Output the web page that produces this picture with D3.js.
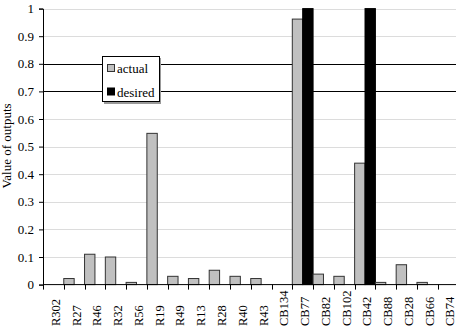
<!DOCTYPE html>
<html><head><meta charset="utf-8">
<script src="https://cdn.jsdelivr.net/npm/d3@7"></script>
<style>body{margin:0;background:#fff}svg{display:block}</style>
</head><body><svg id="c" width="456" height="330" font-family="Liberation Serif"></svg>
<script>
const categories = ["R302","R27","R46","R32","R56","R19","R49","R13","R28","R40","R43","CB134","CB77","CB82","CB102","CB42","CB88","CB28","CB66","CB74"];
const actual  = [0,0.022,0.11,0.10,0.008,0.548,0.03,0.022,0.052,0.03,0.022,0,0.962,0.038,0.03,0.44,0.008,0.072,0.008,0];
const desired = [0,0,0,0,0,0,0,0,0,0,0,0,1,0,0,1,0,0,0,0];
const yTicks = [0,0.1,0.2,0.3,0.4,0.5,0.6,0.7,0.8,0.9,1];
const yTickLabels = ["0","0.1","0.2","0.3","0.4","0.5","0.6","0.7","0.8","0.9","1"];
const thresholds = [0.7,0.8];
const series = ["actual","desired"];
const colors = {actual:"#c0c0c0", desired:"#000000"};
const FONT = "Liberation Serif";

const svg = d3.select("#c");
const pLeft = 43, pRight = 458.5, pTop = 8.6, pBottom = 284.6;
const x = d3.scaleBand().domain(categories).range([pLeft,pRight]).padding(0);
const xs = d3.scaleBand().domain(series).range([0,x.bandwidth()]).padding(0);
const y = d3.scaleLinear().domain([0,1]).range([pBottom,pTop]);

// gridlines
svg.append("g").selectAll("line").data(yTicks.filter(t=>t>0)).join("line")
  .attr("x1",pLeft).attr("x2",456).attr("y1",d=>Math.round(y(d))+0.5).attr("y2",d=>Math.round(y(d))+0.5)
  .attr("stroke","#dcdcdc").attr("stroke-width",1);
// threshold lines
svg.append("g").selectAll("line").data(thresholds).join("line")
  .attr("x1",pLeft).attr("x2",456).attr("y1",d=>Math.round(y(d))+0.5).attr("y2",d=>Math.round(y(d))+0.5)
  .attr("stroke","#000").attr("stroke-width",1.2);

// bars
const data = categories.map((c,i)=>({c, actual:actual[i], desired:desired[i]}));
const g = svg.append("g");
data.forEach(d=>{
  series.forEach(s=>{
    const v = d[s];
    if (v<=0) return;
    g.append("rect")
      .attr("x", x(d.c)+xs(s)).attr("width", xs.bandwidth())
      .attr("y", y(v)).attr("height", y(0)-y(v))
      .attr("fill", colors[s])
      .attr("stroke", s==="actual" ? "#333" : "#000").attr("stroke-width", 1);
  });
});

// y axis
const yAxis = d3.axisLeft(y).tickValues(yTicks).tickFormat((d,i)=>yTickLabels[i]).tickSize(4).tickPadding(5);
const ya = svg.append("g").attr("transform",`translate(${pLeft},0)`).call(yAxis);
ya.attr("font-family",FONT).attr("font-size",13);
ya.select(".domain").attr("stroke","#000");
ya.selectAll("text").style("font-family",FONT).style("font-size","13px").attr("fill","#000");

// x axis line & ticks at boundaries
svg.append("line").attr("x1",pLeft).attr("x2",456).attr("y1",pBottom).attr("y2",pBottom).attr("stroke","#000");
svg.append("g").selectAll("line").data(categories).join("line")
  .attr("x1",d=>Math.round(x(d))+0.5).attr("x2",d=>Math.round(x(d))+0.5)
  .attr("y1",pBottom).attr("y2",pBottom+5).attr("stroke","#000");
svg.append("g").selectAll("text").data(categories).join("text")
  .attr("transform",d=>`translate(${x(d)+x.bandwidth()/2+2},326) rotate(-90)`)
  .attr("dy","0.35em").attr("text-anchor","start")
  .style("font-family",FONT).style("font-size","12.5px").text(d=>d);

// y label
svg.append("text").attr("transform",`translate(11,146) rotate(-90)`)
  .attr("text-anchor","middle").style("font-family",FONT).style("font-size","13px").text("Value of outputs");

// legend
const lg = svg.append("g");
lg.append("rect").attr("x",104).attr("y",58).attr("width",57).attr("height",46).attr("fill","#999");
lg.append("rect").attr("x",102.5).attr("y",56.5).attr("width",57).attr("height",45).attr("fill","#fff").attr("stroke","#000");
series.forEach((s,i)=>{
  lg.append("rect").attr("x",107.5).attr("y",64.5+i*23.5).attr("width",7).attr("height",7)
    .attr("fill",colors[s]).attr("stroke",s==="actual"?"#333":"#000");
  lg.append("text").attr("x",117).attr("y",73+i*23.5).style("font-family",FONT).style("font-size","13px").text(s);
});
</script></body></html>
